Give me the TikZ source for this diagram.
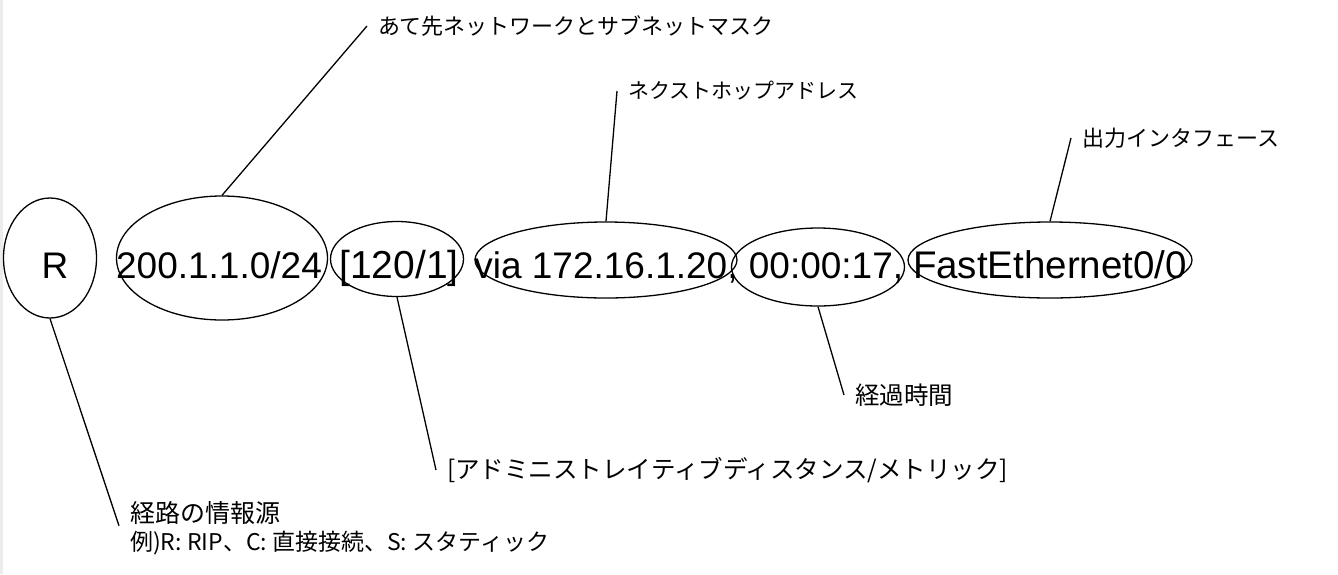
\documentclass[tikz,border=0pt]{standalone}
\usepackage{fontspec}
\setmainfont{Liberation Sans}
\newfontfamily\jpfont{Noto Sans CJK JP}
\usetikzlibrary{shapes.geometric}

\begin{document}
\begin{tikzpicture}[x=1pt, y=-1pt,
  field/.style={ellipse, draw, line width=1.3pt, inner sep=0pt},
  entry/.style={anchor=base, inner sep=0pt, font=\fontsize{37}{41}\selectfont},
  note/.style={anchor=west, inner xsep=11pt, inner ysep=1pt, font=\jpfont\fontsize{22}{26}\selectfont},
  link/.style={line width=1.3pt}]
    \useasboundingbox (0,0) rectangle (1338,574);
    \fill[gray!15] (0,0) rectangle (3,574);
    % the route entry
    \node[field, minimum width=93pt, minimum height=120pt] (src) at (50,258) {};
    \node[field, minimum width=211pt, minimum height=124pt] (dest) at (222,258) {};
    \node[field, minimum width=133pt, minimum height=75pt] (ad) at (397,259) {};
    \node[field, minimum width=262pt, minimum height=76pt] (hop) at (606,260) {};
    \node[field, minimum width=173pt, minimum height=78pt] (age) at (818,267) {};
    \node[field, minimum width=284pt, minimum height=76pt] (intf) at (1050,260) {};
    \node[entry] (srctext) at (55,278) {R};
    \node[entry] (desttext) at (219,278) {200.1.1.0/24};
    \node[entry, font=\fontsize{39}{43}\selectfont] (adtext) at (399,278) {[120/1]};
    \node[entry] (hoptext) at (606,278) {via 172.16.1.20,};
    \node[entry] (agetext) at (826,278) {00:00:17,};
    \node[entry, font=\fontsize{38.5}{43}\selectfont] (intftext) at (1050,278) {FastEthernet0/0};
    % notes
    \node[note] (destnote) at (367,26) {あて先ネットワークとサブネットマスク};
    \node[note, font=\jpfont\fontsize{21}{25}\selectfont] (hopnote) at (617,91) {ネクストホップアドレス};
    \node[note] (intfnote) at (1071,138) {出力インタフェース};
    \node[note, font=\jpfont\fontsize{24.5}{28}\selectfont] (agenote) at (844,395) {経過時間};
    \node[note, font=\jpfont\fontsize{24.5}{28}\selectfont] (adnote) at (436,470) {[アドミニストレイティブディスタンス/メトリック]};
    \node[note, font=\jpfont\fontsize{25}{29}\selectfont] (srcnote) at (119,513) {経路の情報源};
    \node[note, font=\jpfont\fontsize{23}{27}\selectfont] (srcex) at (119,543) {例)R: RIP、C: 直接接続、S: スタティック};
    \draw[link] (src.south) -- (srcnote.south west);
    \draw[link] (dest.north) -- (destnote.west);
    \draw[link] (ad.south) -- (adnote.west);
    \draw[link] (hop.north) -- (hopnote.west);
    \draw[link] (age.south) -- (agenote.west);
    \draw[link] (intf.north) -- (intfnote.west);
\end{tikzpicture}
\end{document}
